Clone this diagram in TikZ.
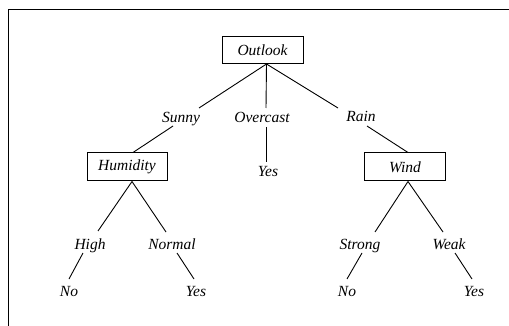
\documentclass[tikz,border=0pt]{standalone}
\usepackage{fontspec}
\setmainfont{Liberation Serif}
\begin{document}
\begin{tikzpicture}[x=1pt,y=-1pt,
  lbl/.style={anchor=base,inner sep=0pt,font=\fontsize{15.5}{18}\selectfont\itshape},
  attr/.style={draw,line width=1pt,inner sep=0pt,font=\fontsize{15.5}{18}\selectfont\itshape,minimum height=27pt},
  edge/.style={line width=0.9pt}]
\useasboundingbox (0,0) rectangle (509,326);
\draw[line width=1pt] (8,326) coordinate (fb) -- (8,10) coordinate (fc) -- (509,10) coordinate (fr);
% attribute boxes
\node[attr,minimum width=81pt] (outlook) at (262.5,50) {Outlook};
\node[attr,minimum width=80pt,minimum height=28pt] (humidity) at (127,167) {Humidity};
\node[attr,minimum width=81pt,minimum height=28pt] (wind) at (405,167) {Wind};
% labels
\node[lbl] (sunny) at (181,123) {Sunny};
\node[lbl] (overcast) at (262,123) {Overcast};
\node[lbl] (rain) at (361,122) {Rain};
\node[lbl] (yes1) at (268,177) {Yes};
\node[lbl] (high) at (90,249) {High};
\node[lbl] (normal) at (172,249) {Normal};
\node[lbl] (strong) at (360,249) {Strong};
\node[lbl] (weak) at (449,249) {Weak};
\node[lbl] (no1) at (69,296) {No};
\node[lbl] (yes2) at (196,296) {Yes};
\node[lbl] (no2) at (347,296) {No};
\node[lbl] (yes3) at (474,296) {Yes};
% connectors
\coordinate (oa) at ([xshift=4]outlook.south);
\draw[edge] (oa) -- ([shift={(18,-15)}]sunny.base);
\draw[edge] ([shift={(-8,3)}]sunny.base) -- ([xshift=6]humidity.north);
\draw[edge] (oa) -- ([shift={(4,-15)}]overcast.base);
\draw[edge] ([shift={(4,4)}]overcast.base) -- ([shift={(-2,-15)}]yes1.base);
\draw[edge] (oa) -- ([shift={(-23,-14)}]rain.base);
\draw[edge] ([shift={(6,4)}]rain.base) -- ([xshift=3]wind.north);
\coordinate (ha) at ([xshift=5]humidity.south);
\draw[edge] (ha) -- ([shift={(8,-18)}]high.base);
\draw[edge] (ha) -- ([shift={(-6,-17)}]normal.base);
\draw[edge] ([shift={(-7,4)}]high.base) -- ([shift={(0,-17)}]no1.base);
\draw[edge] ([shift={(5,4)}]normal.base) -- ([shift={(-2,-17)}]yes2.base);
\coordinate (wa) at ([xshift=3]wind.south);
\draw[edge] (wa) -- ([shift={(15,-17)}]strong.base);
\draw[edge] (wa) -- ([shift={(-6,-17)}]weak.base);
\draw[edge] ([shift={(2,4)}]strong.base) -- ([shift={(0,-17)}]no2.base);
\draw[edge] ([shift={(6,4)}]weak.base) -- ([shift={(-2,-17)}]yes3.base);
\end{tikzpicture}
\end{document}
